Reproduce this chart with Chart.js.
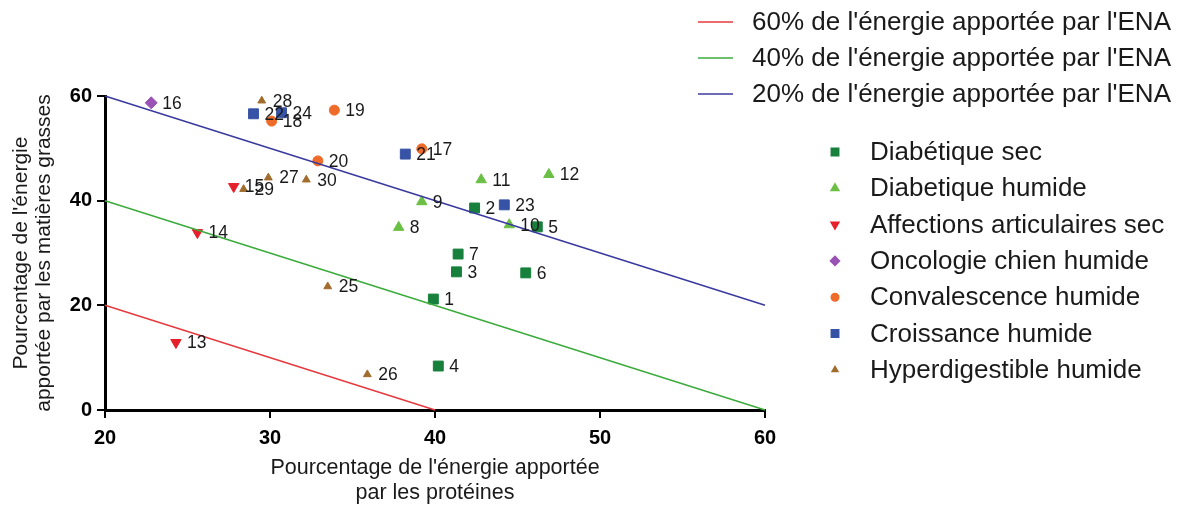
<!DOCTYPE html>
<html>
<head>
<meta charset="utf-8">
<script src="https://cdn.jsdelivr.net/npm/chart.js@4/dist/chart.umd.min.js"></script>
<style>
  html, body { margin: 0; background: #fff; }
  #wrap { width: 1184px; height: 509px; }
</style>
</head>
<body>
<div id="wrap"><canvas id="myChart"></canvas></div>
<script>
// reference lines : part of energy brought by ENA
const refLabels = [
  "60% de l'énergie apportée par l'ENA",
  "40% de l'énergie apportée par l'ENA",
  "20% de l'énergie apportée par l'ENA",
];
const refX = [[20, 40], [20, 60], [20, 60]];
const refY = [[20, 0], [40, 0], [60, 20]];
const refColors = ["#e63a3f", "#3cab3c", "#3a3a9e"];

// diets (x = % energy from proteins, y = % energy from fat)
const diabSecIds = [1, 2, 3, 4, 5, 6, 7];
const diabSecX = [39.9, 42.4, 41.3, 40.2, 46.2, 45.5, 41.4];
const diabSecY = [21.2, 38.6, 26.4, 8.4, 35.0, 26.2, 29.8];

const diabHumIds = [8, 9, 10, 11, 12];
const diabHumX = [37.8, 39.2, 44.5, 42.8, 46.9];
const diabHumY = [34.9, 39.8, 35.4, 44.0, 45.0];

const articIds = [13, 14, 15];
const articX = [24.3, 25.6, 27.8];
const articY = [12.9, 33.9, 42.7];

const oncoIds = [16];
const oncoX = [22.8];
const oncoY = [58.7];

const convaIds = [17, 18, 19, 20];
const convaX = [39.2, 30.1, 33.9, 32.9];
const convaY = [49.9, 55.2, 57.3, 47.6];

const croisIds = [21, 22, 23, 24];
const croisX = [38.2, 29.0, 44.2, 30.7];
const croisY = [48.9, 56.6, 39.2, 56.8];

const hyperIds = [25, 26, 27, 28, 29, 30];
const hyperX = [33.5, 35.9, 29.9, 29.5, 28.4, 32.2];
const hyperY = [23.6, 6.8, 44.4, 59.1, 42.2, 44.0];

const xTicks = { min: 20, max: 60, step: 10 };
const yTicks = { min: 0, max: 60, step: 20 };

const toPts = (xs, ys) => xs.map((x, i) => ({ x: x, y: ys[i] }));

const series = [
  { label: "Diabétique sec", ids: diabSecIds, x: diabSecX, y: diabSecY, color: "#17803c", style: "rect", r: 7, rot: 0 },
  { label: "Diabetique humide", ids: diabHumIds, x: diabHumX, y: diabHumY, color: "#6cbf45", style: "triangle", r: 6, rot: 0 },
  { label: "Affections articulaires sec", ids: articIds, x: articX, y: articY, color: "#e5202b", style: "triangle", r: 6, rot: 180 },
  { label: "Oncologie chien humide", ids: oncoIds, x: oncoX, y: oncoY, color: "#9a52b4", style: "rectRot", r: 6, rot: 0 },
  { label: "Convalescence humide", ids: convaIds, x: convaX, y: convaY, color: "#ef6b2a", style: "circle", r: 5, rot: 0 },
  { label: "Croissance humide", ids: croisIds, x: croisX, y: croisY, color: "#3653a6", style: "rect", r: 7, rot: 0 },
  { label: "Hyperdigestible humide", ids: hyperIds, x: hyperX, y: hyperY, color: "#a26c2c", style: "triangle", r: 4.5, rot: 0 },
];

const datasets = [];
refLabels.forEach((lab, i) => {
  datasets.push({
    label: lab,
    data: toPts(refX[i], refY[i]),
    showLine: true,
    borderColor: refColors[i],
    borderWidth: 1.5,
    pointRadius: 0,
    order: 0,
    clip: false,
    isRef: true,
  });
});
series.forEach((s) => {
  datasets.push({
    label: s.label,
    data: toPts(s.x, s.y),
    ids: s.ids,
    pointStyle: s.style,
    pointRotation: s.rot,
    pointRadius: s.r,
    backgroundColor: s.color,
    borderColor: s.color,
    pointBorderWidth: 1,
    order: 1,
    clip: false,
  });
});

// number next to each point
const pointLabels = {
  id: "pointLabels",
  afterDatasetsDraw(chart) {
    const ctx = chart.ctx;
    ctx.save();
    ctx.font = "17.5px 'Liberation Sans', Arial, sans-serif";
    ctx.fillStyle = "#1a1a1a";
    ctx.textBaseline = "middle";
    ctx.textAlign = "left";
    chart.data.datasets.forEach((ds, i) => {
      if (!ds.ids) return;
      chart.getDatasetMeta(i).data.forEach((el, j) => {
        ctx.fillText(String(ds.ids[j]), el.x + 11, el.y + 1);
      });
    });
    ctx.restore();
  },
};

// legend on the right, lines first then markers
const sideLegend = {
  id: "sideLegend",
  afterDraw(chart) {
    const ctx = chart.ctx;
    ctx.save();
    ctx.font = "26px 'Liberation Sans', Arial, sans-serif";
    ctx.fillStyle = "#1a1a1a";
    ctx.textBaseline = "middle";
    let row = 0;
    chart.data.datasets.forEach((ds) => {
      if (!ds.isRef) return;
      const y = 22 + row * 36;
      ctx.strokeStyle = ds.borderColor;
      ctx.lineWidth = 1.5;
      ctx.beginPath();
      ctx.moveTo(698, y);
      ctx.lineTo(733, y);
      ctx.stroke();
      ctx.fillText(ds.label, 752, y + 1);
      row++;
    });
    row = 0;
    chart.data.datasets.forEach((ds) => {
      if (ds.isRef) return;
      const y = 152 + row * 36.3;
      ctx.fillStyle = ds.backgroundColor;
      ctx.strokeStyle = ds.borderColor;
      Chart.helpers.drawPoint(ctx, {
        pointStyle: ds.pointStyle,
        rotation: ds.pointRotation,
        radius: ds.pointRadius * 0.75,
        borderWidth: 1,
      }, 835, y);
      ctx.fillStyle = "#1a1a1a";
      ctx.fillText(ds.label, 870, y + 1);
      row++;
    });
    ctx.restore();
  },
};

const tickFont = { family: "'Liberation Sans', Arial, sans-serif", size: 20, weight: "bold" };
const titleFont = { family: "'Liberation Sans', Arial, sans-serif", size: 21.5, lineHeight: 1.13 };

new Chart(document.getElementById("myChart"), {
  type: "scatter",
  data: { datasets: datasets },
  options: {
    responsive: true,
    maintainAspectRatio: false,
    animation: false,
    layout: { padding: { left: 0, top: 96, right: 419, bottom: 0 } },
    plugins: {
      legend: { display: false },
      tooltip: { enabled: false },
    },
    scales: {
      x: {
        type: "linear",
        min: xTicks.min,
        max: xTicks.max,
        ticks: { stepSize: xTicks.step, color: "#000", font: tickFont, padding: 8 },
        grid: { drawOnChartArea: false, color: "#000", lineWidth: 2, tickLength: 8 },
        border: { color: "#000", width: 3 },
        title: {
          display: true,
          text: ["Pourcentage de l'énergie apportée", "par les protéines"],
          color: "#1a1a1a",
          font: titleFont,
          padding: { top: 0, bottom: 4 },
        },
        afterFit: (scale) => { scale.height = 99; },
      },
      y: {
        type: "linear",
        min: yTicks.min,
        max: yTicks.max,
        ticks: { stepSize: yTicks.step, color: "#000", font: tickFont, padding: 5 },
        grid: { drawOnChartArea: false, color: "#000", lineWidth: 2, tickLength: 8 },
        border: { color: "#000", width: 3 },
        title: {
          display: true,
          text: ["Pourcentage de l'énergie", "apportée par les matières grasses"],
          color: "#1a1a1a",
          font: { family: "'Liberation Sans', Arial, sans-serif", size: 21, lineHeight: 1.13 },
          padding: { top: 9, bottom: 0 },
        },
        afterFit: (scale) => { scale.width = 105; },
      },
    },
  },
  plugins: [pointLabels, sideLegend],
});
</script>
</body>
</html>
